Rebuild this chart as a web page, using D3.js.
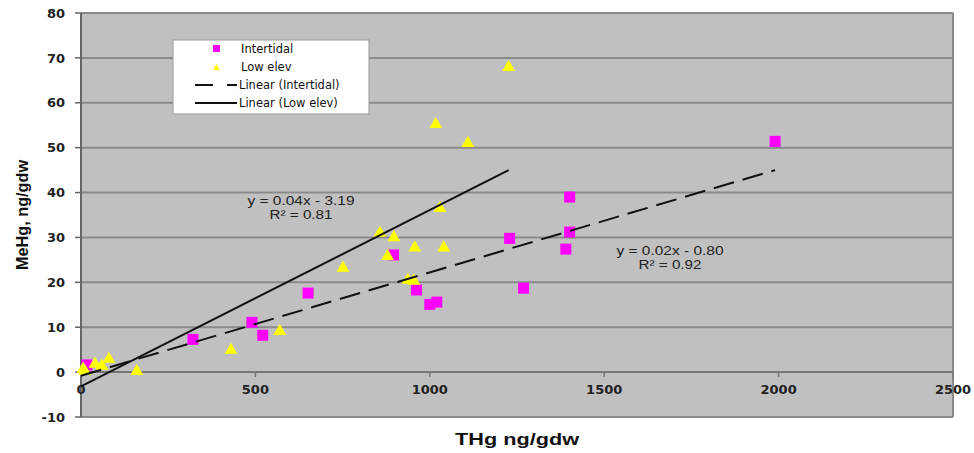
<!DOCTYPE html>
<html lang='en'>
<head>
	<meta charset='utf-8'>
	<script type='text/javascript' src='https://d3js.org/d3.v7.min.js'></script>
	<style type='text/css'>
		body { margin:0; background:#fff; }
		.tick-label { font-family:'DejaVu Sans', Verdana; font-weight:bold; font-size:13px; fill:#222; }
		.axis-title { font-family:'Liberation Sans', Arial; font-weight:bold; font-size:16px; fill:#111; }
		.legend text { font-family:'DejaVu Sans', Verdana; font-size:11.5px; fill:#111; }
		.eq { font-family:'Liberation Sans', Arial; font-size:12px; fill:#222; }
	</style>
</head>
<body>
	<div id='chart'></div>
	<script type='text/javascript'>
		// Intertidal (magenta squares)
		var intertidalX = [17, 321, 490, 521, 651, 896, 962, 1000, 1020, 1229, 1269, 1390, 1401, 1401, 1990];
		var intertidalY = [1.6, 7.3, 11.1, 8.2, 17.6, 26.1, 18.3, 15.1, 15.6, 29.8, 18.7, 27.4, 31.2, 39.0, 51.4];

		// Low elev (yellow triangles)
		var lowX = [6, 11, 40, 60, 80, 160, 430, 570, 751, 857, 879, 897, 937, 954, 957, 1017, 1029, 1040, 1109, 1226];
		var lowY = [0.7, 0.2, 1.8, 1.3, 2.9, 0.2, 4.9, 9.1, 23.2, 31.0, 25.8, 30.0, 20.5, 20.3, 27.7, 55.2, 36.5, 27.7, 51.0, 67.9];

		// trend line end points as drawn
		var intertidalTrend = [[0, -0.8], [1990, 45]];
		var lowTrend = [[0, -3.2], [1226, 45]];

		var xTicks = [0, 500, 1000, 1500, 2000, 2500];
		var yTicks = [-10, 0, 10, 20, 30, 40, 50, 60, 70, 80];

		var width = 974,
			height = 453;
		var margin = {top: 13, right: 21, bottom: 36, left: 81};

		var svg = d3.select('#chart')
			.append('svg')
			.attr('width', width)
			.attr('height', height);

		var x = d3.scaleLinear().domain([0, 2500]).range([margin.left, width - margin.right]);
		var y = d3.scaleLinear().domain([-10, 80]).range([height - margin.bottom, margin.top]);

		//plot area
		svg.append('rect')
			.attr('x', x(0))
			.attr('y', y(80))
			.attr('width', x(2500) - x(0))
			.attr('height', y(-10) - y(80))
			.style('fill', '#c0c0c0');

		//grid lines
		svg.selectAll('.grid')
			.data(yTicks.filter(function(d){ return d > -10 && d !== 0; }))
			.enter()
			.append('line')
			.attr('x1', x(0))
			.attr('x2', x(2500))
			.attr('y1', function(d){ return y(d); })
			.attr('y2', function(d){ return y(d); })
			.style('stroke', '#8a8a8a')
			.style('stroke-width', 2);

		//frame: top, right, bottom
		svg.append('line').attr('x1', x(0)).attr('x2', x(2500)).attr('y1', y(80)).attr('y2', y(80))
			.style('stroke', '#8a8a8a').style('stroke-width', 1.5);
		svg.append('line').attr('x1', x(2500)).attr('x2', x(2500)).attr('y1', y(80)).attr('y2', y(-10))
			.style('stroke', '#8a8a8a').style('stroke-width', 2);
		svg.append('line').attr('x1', x(0)).attr('x2', x(2500)).attr('y1', y(-10)).attr('y2', y(-10))
			.style('stroke', '#8a8a8a').style('stroke-width', 2);

		//y axis
		svg.append('line').attr('x1', x(0)).attr('x2', x(0)).attr('y1', y(80)).attr('y2', y(-10))
			.style('stroke', '#666').style('stroke-width', 2);
		svg.selectAll('.ytick')
			.data(yTicks)
			.enter()
			.append('line')
			.attr('x1', x(0) - 6)
			.attr('x2', x(0))
			.attr('y1', function(d){ return y(d); })
			.attr('y2', function(d){ return y(d); })
			.style('stroke', '#666')
			.style('stroke-width', 1.5);
		svg.selectAll('.ylab')
			.data(yTicks)
			.enter()
			.append('text')
			.attr('class', 'tick-label')
			.attr('x', x(0) - 16)
			.attr('y', function(d){ return y(d); })
			.attr('dy', '0.36em')
			.attr('text-anchor', 'end')
			.text(function(d){ return d; });

		//x axis at zero
		svg.append('line').attr('x1', x(0)).attr('x2', x(2500)).attr('y1', y(0)).attr('y2', y(0))
			.style('stroke', '#777').style('stroke-width', 2);
		svg.selectAll('.xtick')
			.data(xTicks)
			.enter()
			.append('line')
			.attr('x1', function(d){ return x(d); })
			.attr('x2', function(d){ return x(d); })
			.attr('y1', y(0))
			.attr('y2', y(0) + 5)
			.style('stroke', '#777')
			.style('stroke-width', 1.5);
		svg.selectAll('.xlab')
			.data(xTicks)
			.enter()
			.append('text')
			.attr('class', 'tick-label')
			.attr('x', function(d){ return x(d); })
			.attr('y', y(0) + 22)
			.attr('text-anchor', 'middle')
			.text(function(d){ return d; });

		//axis titles
		svg.append('text')
			.attr('class', 'axis-title')
			.attr('x', (x(0) + x(2500)) / 2)
			.attr('y', 445)
			.attr('text-anchor', 'middle')
			.attr('textLength', 124)
			.attr('lengthAdjust', 'spacingAndGlyphs')
			.text('THg ng/gdw');
		svg.append('text')
			.attr('class', 'axis-title')
			.attr('transform', 'translate(28,' + ((y(80) + y(-10)) / 2) + ') rotate(-90)')
			.attr('text-anchor', 'middle')
			.attr('textLength', 110)
			.attr('lengthAdjust', 'spacingAndGlyphs')
			.text('MeHg, ng/gdw');

		//points
		var sq = 11;
		svg.selectAll('.inter')
			.data(intertidalX)
			.enter()
			.append('rect')
			.attr('x', function(d){ return x(d) - sq / 2; })
			.attr('y', function(d, i){ return y(intertidalY[i]) - sq / 2; })
			.attr('width', sq)
			.attr('height', sq)
			.style('fill', '#ff00ff');

		var tri = d3.symbol().type(d3.symbolTriangle).size(72);
		svg.selectAll('.low')
			.data(lowX)
			.enter()
			.append('path')
			.attr('d', tri)
			.attr('transform', function(d, i){ return 'translate(' + x(d) + ',' + y(lowY[i]) + ')'; })
			.style('fill', '#ffff00');

		//trend lines
		var line = d3.line()
			.x(function(d){ return x(d[0]); })
			.y(function(d){ return y(d[1]); });
		svg.append('path')
			.attr('d', line(intertidalTrend))
			.style('fill', 'none')
			.style('stroke', '#111')
			.style('stroke-width', 2)
			.style('stroke-dasharray', '21,9');
		svg.append('path')
			.attr('d', line(lowTrend))
			.style('fill', 'none')
			.style('stroke', '#111')
			.style('stroke-width', 2);

		//equations
		function eq(cx, cy, main, r2) {
			svg.append('text').attr('class', 'eq').attr('x', cx).attr('y', cy).attr('text-anchor', 'middle')
				.attr('textLength', 107).attr('lengthAdjust', 'spacingAndGlyphs').text(main);
			svg.append('text').attr('class', 'eq').attr('x', cx).attr('y', cy + 13.5).attr('text-anchor', 'middle')
				.attr('textLength', 63).attr('lengthAdjust', 'spacingAndGlyphs').text(r2);
		}
		eq(301, 205, 'y = 0.04x - 3.19', 'R² = 0.81');
		eq(670, 255, 'y = 0.02x - 0.80', 'R² = 0.92');

		//legend
		var legend = svg.append('g').attr('class', 'legend');
		legend.append('rect')
			.attr('x', 173)
			.attr('y', 40)
			.attr('width', 196)
			.attr('height', 74)
			.style('fill', '#fff')
			.style('stroke', '#999')
			.style('stroke-width', 1);
		var legendNames = ['Intertidal', 'Low elev', 'Linear (Intertidal)', 'Linear (Low elev)'];
		legend.selectAll('.lt')
			.data(legendNames)
			.enter()
			.append('text')
			.attr('x', function(d, i){ return i < 2 ? 241 : 239; })
			.attr('y', function(d, i){ return 49 + i * 18; })
			.attr('dy', '0.35em')
			.text(function(d){ return d; });
		legend.append('rect').attr('x', 213).attr('y', 45).attr('width', 7).attr('height', 7).style('fill', '#ff00ff');
		legend.append('path').attr('d', d3.symbol().type(d3.symbolTriangle).size(20))
			.attr('transform', 'translate(216.5,68)').style('fill', '#ffff00');
		legend.append('line').attr('x1', 195).attr('x2', 237).attr('y1', 85).attr('y2', 85)
			.style('stroke', '#111').style('stroke-width', 2).style('stroke-dasharray', '18,14');
		legend.append('line').attr('x1', 195).attr('x2', 237).attr('y1', 103).attr('y2', 103)
			.style('stroke', '#111').style('stroke-width', 2);
	</script>
</body>
</html>
